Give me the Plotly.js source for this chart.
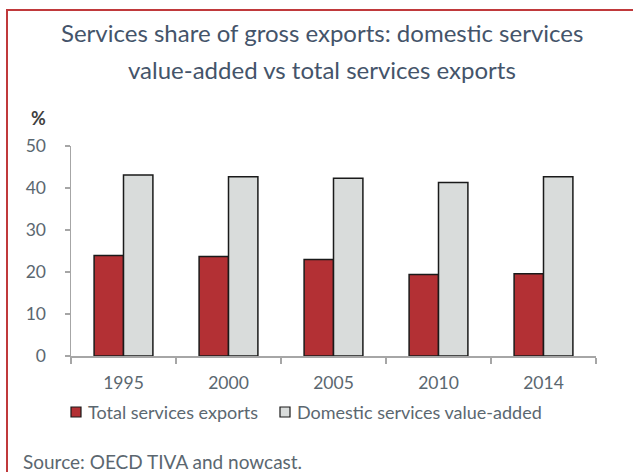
<!DOCTYPE html>
<html>
<head>
<meta charset="utf-8">
<script src="https://cdn.plot.ly/plotly-3.0.1.min.js"></script>
<style>
  html, body { margin: 0; padding: 0; background: #fff; }
  #wrap { position: relative; width: 633px; height: 472px; overflow: hidden; }
  #chart { position: absolute; left: 0; top: 0; width: 633px; height: 472px; }
  #frame { position: absolute; left: 6px; top: 9px; width: 640px; height: 480px;
           border-left: 2px solid #c0393b; border-top: 2px solid #c0393b; pointer-events: none; }
</style>
</head>
<body>
<div id="wrap">
  <div id="chart"></div>
  <div id="frame"></div>
</div>
<script>
const years = ["1995", "2000", "2005", "2010", "2014"];
const totalServices = [23.9, 23.7, 23.0, 19.4, 19.6];
const domesticVA = [43.1, 42.7, 42.3, 41.3, 42.7];
const seriesNames = ["Total services exports", "Domestic services value-added"];
const seriesColors = ["#b33034", "#d9dcdb"];
const titleLines = ["Services share of gross exports: domestic services", "value-added vs total services exports"];
const sourceText = "Source: OECD TIVA and nowcast.";

const W = 633, H = 472;
const M = { l: 71, r: 37, t: 146, b: 116 };
const pw = W - M.l - M.r, ph = H - M.t - M.b;
const px = x => (x - M.l) / pw;
const py = y => (H - M.b - y) / ph;

const FONT = "Lato, 'Open Sans', sans-serif";
const txt = "#5b6770";

const traces = [
  { type: "bar", name: seriesNames[0], x: years, y: totalServices,
    marker: { color: seriesColors[0], line: { color: "#1a1a1a", width: 1.5 } }, hoverinfo: "y" },
  { type: "bar", name: seriesNames[1], x: years, y: domesticVA,
    marker: { color: seriesColors[1], line: { color: "#1a1a1a", width: 1.5 } }, hoverinfo: "y" }
];

// legend (drawn as shapes + text so spacing matches the original)
const legendPos = [{ sx: 71, tx: 86 }, { sx: 280, tx: 295 }];
const legendY = 412;
const shapes = [];
const annotations = [];
seriesNames.forEach((name, i) => {
  const p = legendPos[i];
  shapes.push({ type: "rect", xref: "paper", yref: "paper",
    x0: px(p.sx), x1: px(p.sx + 10), y0: py(legendY + 5), y1: py(legendY - 5),
    fillcolor: seriesColors[i], line: { color: "#1a1a1a", width: 1.2 } });
  annotations.push({ text: name, xref: "paper", yref: "paper", x: px(p.tx), y: py(legendY),
    xanchor: "left", yanchor: "middle", showarrow: false,
    font: { family: FONT, size: 18, color: txt } });
});

annotations.push(
  { text: titleLines[0], xref: "paper", yref: "paper", x: px(322), y: py(33), xanchor: "center", yanchor: "middle",
    showarrow: false, font: { family: FONT, size: 24, color: "#44546a" } },
  { text: titleLines[1], xref: "paper", yref: "paper", x: px(322), y: py(70), xanchor: "center", yanchor: "middle",
    showarrow: false, font: { family: FONT, size: 24, color: "#44546a" } },
  { text: "<b>%</b>", xref: "paper", yref: "paper", x: px(29), y: py(118), xanchor: "left", yanchor: "middle",
    showarrow: false, font: { family: FONT, size: 18, color: "#404040" } },
  { text: sourceText, xref: "paper", yref: "paper", x: px(21), y: py(461), xanchor: "left", yanchor: "middle",
    showarrow: false, font: { family: FONT, size: 19, color: txt } }
);

const layout = {
  width: W, height: H,
  margin: M,
  paper_bgcolor: "#fff", plot_bgcolor: "#fff",
  barmode: "group", bargap: 0.44, bargroupgap: 0,
  font: { family: FONT, color: txt, size: 17 },
  xaxis: {
    type: "category", showgrid: false, zeroline: false,
    showline: true, linecolor: "#a6a6a6", linewidth: 1.5,
    ticks: "outside", tickson: "boundaries", ticklen: 6, tickcolor: "#a6a6a6", tickwidth: 1.5,
    tickfont: { family: FONT, size: 17.5, color: txt }, ticklabelstandoff: 10
  },
  yaxis: {
    range: [0, 50], dtick: 10, showgrid: false, zeroline: false,
    showline: true, linecolor: "#a6a6a6", linewidth: 1.5,
    ticks: "outside", ticklen: 5, tickcolor: "#a6a6a6", tickwidth: 1.5,
    tickfont: { family: FONT, size: 17.5, color: txt }, ticklabelstandoff: 15
  },
  showlegend: false,
  shapes: shapes,
  annotations: annotations
};

Plotly.newPlot("chart", traces, layout, { displayModeBar: false, staticPlot: true });
</script>
</body>
</html>
